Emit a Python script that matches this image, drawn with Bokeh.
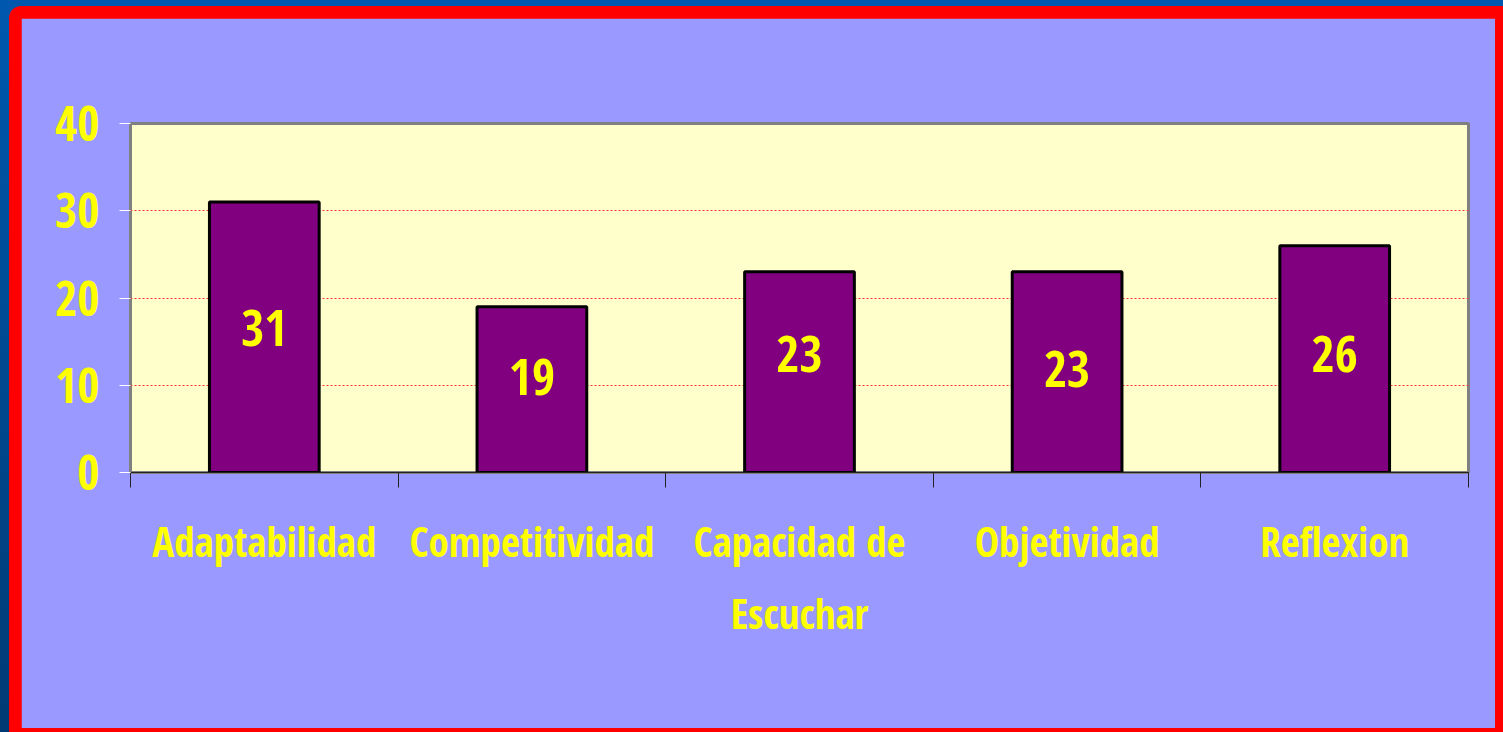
from bokeh.plotting import figure
from bokeh.layouts import column
from bokeh.models import Range1d, FixedTicker, ColumnDataSource
from bokeh.core.properties import value
from bokeh.embed import file_html
from bokeh.resources import INLINE

# ---- data ----
categories = ["Adaptabilidad", "Competitividad", "Capacidad de\nEscuchar", "Objetividad", "Reflexion"]
values = [31, 19, 23, 23, 26]
y_ticks = [0, 10, 20, 30, 40]

# label nudges (pixels, style only)
label_nudge = [-9, -13, -18, -3, -5]

FONT = "'Open Sans Condensed', 'Liberation Sans', sans-serif"
YELLOW = "#FFFF00"

# figure occupies x 21..1495, y 18..728 of the page
p = figure(width=1474, height=710, output_backend="svg", toolbar_location=None,
           x_range=Range1d(0, len(categories)), y_range=Range1d(0, 40),
           min_border_left=109, min_border_right=27, min_border_top=105, min_border_bottom=256,
           margin=(12, 8, 4, 12))

p.background_fill_color = "#FFFFCC"
p.border_fill_color = "#9999FF"
p.outline_line_color = "#808080"
p.outline_line_width = 3

xs = [i + 0.5 for i in range(len(categories))]
src = ColumnDataSource(dict(x=xs, top=values, mid=[v / 2 for v in values],
                            lab=[str(v) for v in values], off=label_nudge))

p.vbar(x="x", top="top", width=0.41, bottom=0, source=src,
       fill_color="#800080", line_color="black", line_width=3)

p.text(x="x", y="mid", text="lab", y_offset="off", source=src,
       text_font=value(FONT), text_font_style="bold", text_font_size="50px",
       text_color=YELLOW, text_align="center", text_baseline="middle")

# grid
p.xgrid.grid_line_color = None
p.ygrid.ticker = FixedTicker(ticks=y_ticks)
p.ygrid.grid_line_color = "#FF3333"
p.ygrid.grid_line_dash = "2 2"
p.ygrid.grid_line_width = 1

# y axis
ya = p.yaxis[0]
ya.ticker = FixedTicker(ticks=y_ticks)
ya.axis_line_color = "#808080"
ya.major_tick_line_color = "white"
ya.major_tick_out = 11
ya.major_tick_in = 0
ya.minor_tick_line_color = None
ya.major_label_standoff = 20
ya.major_label_text_font = FONT
ya.major_label_text_font_style = "bold"
ya.major_label_text_font_size = "48px"
ya.major_label_text_color = YELLOW

# x axis
xa = p.xaxis[0]
xa.ticker = FixedTicker(ticks=xs, minor_ticks=list(range(len(categories) + 1)))
xa.major_label_overrides = {x: c for x, c in zip(xs, categories)}
xa.axis_line_color = "#222222"
xa.axis_line_width = 1
xa.major_tick_line_color = None
xa.major_tick_out = 0
xa.major_tick_in = 0
xa.minor_tick_line_color = "#222222"
xa.minor_tick_out = 15
xa.minor_tick_in = 0
xa.major_label_standoff = 25
xa.major_label_text_font = FONT
xa.major_label_text_font_style = "bold"
xa.major_label_text_font_size = "41px"
xa.major_label_text_color = YELLOW
xa.major_label_text_line_height = 1.3

inner = column(p, margin=(6, 0, 0, 9),
               styles={"background-color": "#FF0000", "border-top-left-radius": "12px"})
outer = column(inner, styles={"background": "linear-gradient(#0058AE, #003A74)"})

open("out.html", "w").write(file_html(outer, INLINE))
